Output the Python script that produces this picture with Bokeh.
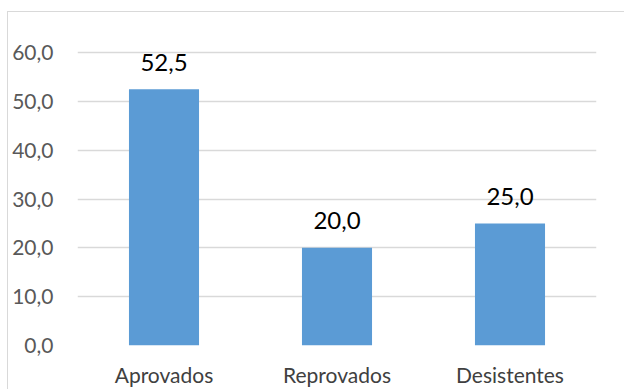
from bokeh.plotting import figure
from bokeh.models import FixedTicker, Label, ColumnDataSource, Range1d
from bokeh.core.properties import value
from bokeh.embed import file_html
from bokeh.resources import INLINE

categories = ["Aprovados", "Reprovados", "Desistentes"]
values = [52.5, 20.0, 25.0]
y_ticks = [0, 10, 20, 30, 40, 50, 60]
y_tick_labels = ["0,0", "10,0", "20,0", "30,0", "40,0", "50,0", "60,0"]
value_labels = ["52,5", "20,0", "25,0"]
title_text = "Resultados em percentagem"

FONT = "Lato"

src = ColumnDataSource(dict(cat=categories, val=values, lab=value_labels))

border_css = """
:host { position: relative; }
:host::after {
  content: "";
  position: absolute;
  left: 7px; top: 11px; right: -10px; bottom: -10px;
  border-left: 1.5px solid #D9D9D9;
  border-top: 1.5px solid #D9D9D9;
  pointer-events: none;
}
"""

p = figure(width=624, height=389, x_range=categories, y_range=Range1d(0, 68.4),
           output_backend="svg", toolbar_location=None,
           min_border_left=77, min_border_right=28, min_border_top=11, min_border_bottom=44,
           stylesheets=[border_css])
p.x_range.range_padding = 0
p.outline_line_color = None
p.background_fill_color = "white"
p.border_fill_color = "white"

p.vbar(x="cat", top="val", width=0.405, source=src, color="#5B9BD5", line_color=None)
p.text(x="cat", y="val", text="lab", source=src, text_align="center", text_baseline="alphabetic",
       y_offset=-27, text_font=value(FONT), text_font_size="24px", text_color="#000000")

p.yaxis.ticker = FixedTicker(ticks=y_ticks)
p.yaxis.major_label_overrides = {t: l for t, l in zip(y_ticks, y_tick_labels)}
p.yaxis.axis_line_color = None
p.yaxis.major_tick_line_color = None
p.yaxis.minor_tick_line_color = None
p.yaxis.major_tick_out = 0
p.yaxis.major_label_standoff = 24
p.yaxis.major_label_text_font = FONT
p.yaxis.major_label_text_font_size = "21px"
p.yaxis.major_label_text_color = "#595959"

p.xaxis.axis_line_color = None
p.xaxis.major_tick_line_color = None
p.xaxis.major_tick_out = 0
p.xaxis.major_label_standoff = 16
p.xaxis.major_label_text_font = FONT
p.xaxis.major_label_text_font_size = "21px"
p.xaxis.major_label_text_color = "#404040"

p.xgrid.grid_line_color = None
p.ygrid.ticker = FixedTicker(ticks=y_ticks)
p.ygrid.grid_line_color = "#D9D9D9"
p.ygrid.grid_line_width = 1.5

p.add_layout(Label(x=162, y=1.5, x_units="canvas", y_units="canvas", text=title_text,
                   text_baseline="alphabetic", text_font="Liberation Serif",
                   text_font_size="18px", text_color="#000000"))

open("out.html", "w").write(file_html(p, INLINE))
